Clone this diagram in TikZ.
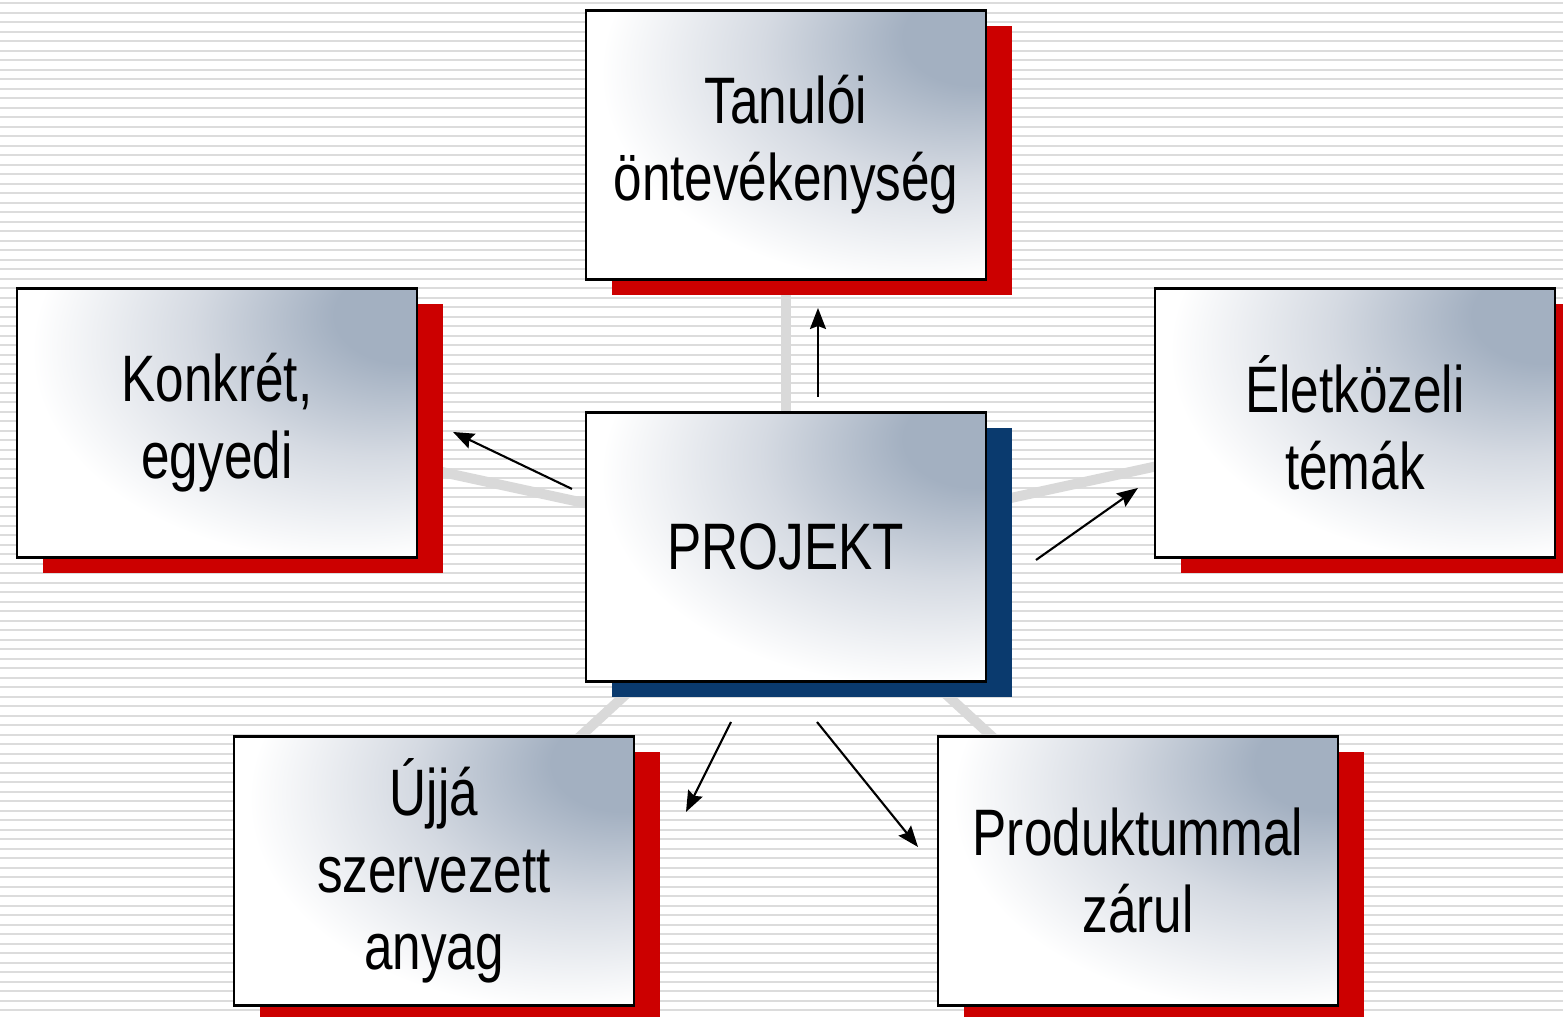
\documentclass[tikz,border=0pt]{standalone}
\usepackage{fontspec}
\newfontfamily\boxfont[FakeStretch=0.78]{Liberation Sans}
\usetikzlibrary{positioning,shadows,arrows.meta,backgrounds}
\pgfdeclarelayer{stripes}
\pgfsetlayers{stripes,background,main}
\definecolor{boxgray}{HTML}{A3B0C1}
\definecolor{boxmid}{HTML}{D5DAE2}
\definecolor{shadowred}{HTML}{CC0000}
\definecolor{shadowblue}{HTML}{0A3A6E}
\definecolor{linegray}{HTML}{D9D9D9}
\definecolor{stripegray}{HTML}{DCDCDC}
\pgfdeclareradialshading{boxshade}{\pgfpoint{26bp}{22bp}}{color(0bp)=(boxgray); color(9bp)=(boxgray); color(23bp)=(boxmid); color(39bp)=(white); color(100bp)=(white)}
\tikzset{
  tbox/.style={draw, line width=0.6pt, shading=boxshade,
    minimum width=4cm, minimum height=2.69cm, inner sep=0pt, outer sep=0pt,
    align=center, font=\boxfont\fontsize{18.7pt}{21.9pt}\selectfont,
    drop shadow={shadow xshift=0.26cm, shadow yshift=-0.16cm, fill=#1, opacity=1}},
  tbox/.default=shadowred
}
\begin{document}
\begin{tikzpicture}[>={Stealth[length=0.21cm,width=0.16cm,inset=0.03cm]}]
  \useasboundingbox (0,0) rectangle (15.63,10.17);
  \begin{pgfonlayer}{stripes}
    \fill[white] (0,0) rectangle (15.63,10.17);
    \foreach \i in {0,...,106}
      \draw[stripegray, line width=0.6pt] (0,10.137-\i*0.095) -- (15.63,10.137-\i*0.095);
  \end{pgfonlayer}
  \node[tbox=shadowblue] (proj) at (7.86,4.70) {PROJEKT};
  \node[tbox] (tanul) [above=1.33cm of proj] {Tanulói\\öntevékenység};
  \node[tbox] (konkr) [left=1.69cm of proj, yshift=1.24cm] {Konkrét,\\egyedi};
  \node[tbox] (elet) [right=1.69cm of proj, yshift=1.24cm] {Életközeli\\témák};
  \node[tbox] (ujja) [below left=0.55cm and -0.48cm of proj] {Újjá\\szervezett\\anyag};
  \node[tbox] (prod) [below right=0.55cm and -0.48cm of proj] {Produktummal\\zárul};
  \begin{scope}[on background layer]
    \foreach \n in {tanul,konkr,elet,ujja,prod}
      \draw[linegray, line width=0.1cm] (proj.center) -- (\n.center);
  \end{scope}
  \coordinate (up0) at (8.18,6.20);
  \coordinate (up1) at (8.18,7.09);
  \coordinate (l0) at (5.72,5.28);
  \coordinate (l1) at (4.53,5.85);
  \coordinate (r0) at (10.36,4.57);
  \coordinate (r1) at (11.38,5.29);
  \coordinate (bl0) at (7.31,2.95);
  \coordinate (bl1) at (6.86,2.05);
  \coordinate (br0) at (8.17,2.95);
  \coordinate (br1) at (9.18,1.70);
  \draw[->, line width=0.6pt] (up0) -- (up1);
  \draw[->, line width=0.6pt] (l0) -- (l1);
  \draw[->, line width=0.6pt] (r0) -- (r1);
  \draw[->, line width=0.6pt] (bl0) -- (bl1);
  \draw[->, line width=0.6pt] (br0) -- (br1);
\end{tikzpicture}
\end{document}
